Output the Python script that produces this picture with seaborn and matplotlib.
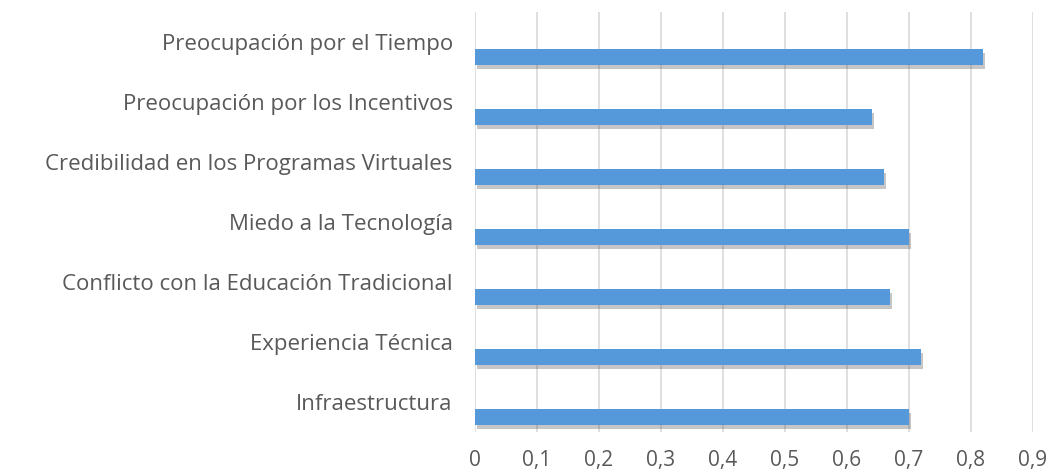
import pandas as pd
import matplotlib
matplotlib.use('Agg')
import matplotlib.pyplot as plt
import matplotlib.patheffects as pe
from matplotlib.ticker import FuncFormatter, MultipleLocator
import seaborn as sns

categories = [
    'Preocupación por el Tiempo',
    'Preocupación por los Incentivos',
    'Credibilidad en los Programas Virtuales',
    'Miedo a la Tecnología',
    'Conflicto con la Educación Tradicional',
    'Experiencia Técnica',
    'Infraestructura',
]
values = [0.82, 0.64, 0.66, 0.70, 0.67, 0.72, 0.70]
# empty first series of the original clustered chart (pushes the bars down)
empty_series = [0] * len(categories)

df = pd.DataFrame({
    'Factor': categories * 2,
    'Serie': ['Serie 1'] * len(categories) + ['Serie 2'] * len(categories),
    'Valor': empty_series + values,
})

sns.set_style('white')
plt.rcParams['font.family'] = ['Open Sans', 'DejaVu Sans']

fig = plt.figure(figsize=(10.5, 4.75), dpi=100)
ax = fig.add_axes([0.4524, 0.0905, 0.9838 - 0.4524, 0.9747 - 0.0905])

sns.barplot(data=df, y='Factor', x='Valor', hue='Serie', order=categories,
            palette=[(1, 1, 1, 0), '#5599DA'], saturation=1, width=1.0, gap=0.46,
            linewidth=0, legend=False, ax=ax, zorder=3)

# soft drop shadow like the original
for patch in ax.patches:
    if patch.get_width() > 0:
        patch.set_path_effects([pe.SimplePatchShadow(offset=(1.5, -3), alpha=0.3, shadow_rgbFace='#444444'),
                                pe.Normal()])

ax.set_xlim(0, 0.9)
ax.set_ylim(len(categories) - 0.5, -0.5)
ax.xaxis.set_major_locator(MultipleLocator(0.1))
ax.xaxis.set_major_formatter(FuncFormatter(lambda v, p: ('%g' % round(v, 1)).replace('.', ',')))
ax.grid(axis='x', color='#D9D9D9', linewidth=1.2, zorder=0)
ax.set_axisbelow(True)
for s in ax.spines.values():
    s.set_visible(False)

ax.set_xlabel('')
ax.set_ylabel('')
ax.tick_params(axis='y', length=0, pad=16, labelsize=16, labelcolor='#595959')
ax.tick_params(axis='x', length=0, pad=13, labelsize=15, labelcolor='#595959')

fig.savefig('out.png', dpi=100)
